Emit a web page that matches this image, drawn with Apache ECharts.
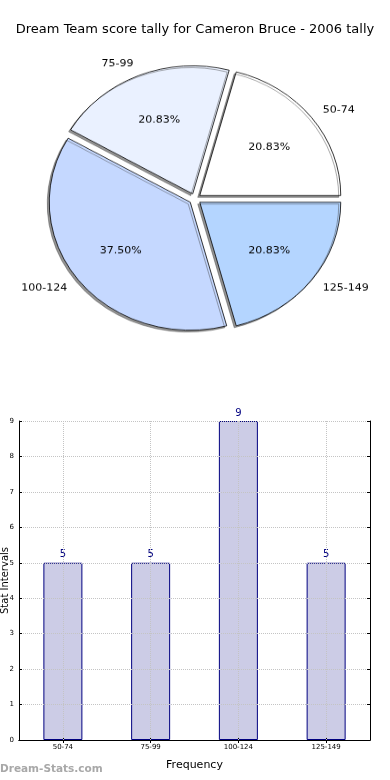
<!DOCTYPE html>
<html><head><meta charset="utf-8">
<script src="https://cdn.jsdelivr.net/npm/echarts@6/dist/echarts.min.js"></script>
<style>
html,body{margin:0;padding:0;background:#fff}
#main{position:absolute;left:0;top:0;width:390px;height:780px}
#pie{position:absolute;left:0;top:0;width:390px;height:440px;transform:scaleY(0.908);transform-origin:0 0}
</style></head>
<body><div id="main"></div><div id="pie"></div>
<script>
const categories = ['50-74', '75-99', '100-124', '125-149'];
const counts = [5, 5, 9, 5];
const pieColors = ['#ffffff', '#eaf1ff', '#c5d8ff', '#b4d5ff'];
const titleText = 'Dream Team score tally for Cameron Bruce - 2006 tally';
const FONT = 'DejaVu Sans';

const total = counts.reduce((a, b) => a + b, 0);

const main = echarts.init(document.getElementById('main'), null, {renderer: 'canvas'});
main.setOption({
  animation: false,
  backgroundColor: '#fff',
  title: [
    {text: titleText, left: 'center', top: 23, padding: 0,
     textStyle: {fontSize: 13, fontWeight: 'normal', color: '#000', fontFamily: FONT}},
    {text: 'Dream-Stats.com', left: 0, top: 764, padding: 0,
     textStyle: {fontSize: 10.5, fontWeight: 'bold', color: '#a8a8a8', fontFamily: FONT}}
  ],
  grid: {left: 19, right: 20, top: 421, bottom: 40, containLabel: false, outerBoundsMode: 'none'},
  xAxis: [
    {type: 'category', data: categories, position: 'bottom', z: 6,
     axisLine: {show: true, lineStyle: {color: '#000', width: 1}},
     axisTick: {show: true, inside: true, alignWithLabel: true, length: 3, lineStyle: {color: '#000'}},
     axisLabel: {fontSize: 7, color: '#000', margin: 4, fontFamily: FONT},
     splitLine: {show: false},
     name: 'Frequency', nameLocation: 'middle', nameGap: 20, nameMoveOverlap: false,
     nameTextStyle: {fontSize: 11, color: '#000', fontFamily: FONT}},
    {type: 'category', data: categories, position: 'top', z: 6,
     axisLine: {show: true, lineStyle: {color: '#000', width: 1}},
     axisTick: {show: true, inside: true, alignWithLabel: true, length: 3, lineStyle: {color: '#000'}},
     axisLabel: {show: false}, splitLine: {show: false}}
  ],
  yAxis: [
    {type: 'value', min: 0, max: 9, interval: 1, position: 'left', z: 5,
     axisLine: {show: true, lineStyle: {color: '#000', width: 1}},
     axisTick: {show: true, inside: true, length: 3, lineStyle: {color: '#000'}},
     axisLabel: {fontSize: 7, color: '#000', margin: 5, fontFamily: FONT},
     splitLine: {show: true, lineStyle: {color: '#c4c4c4', type: 'dotted', width: 1}},
     name: 'Stat Intervals', nameLocation: 'middle', nameGap: 9, nameMoveOverlap: false,
     nameTextStyle: {fontSize: 10, color: '#000', fontFamily: FONT}},
    {type: 'value', min: 0, max: 9, interval: 1, position: 'right', z: 6,
     axisLine: {show: true, lineStyle: {color: '#000', width: 1}},
     axisTick: {show: true, inside: true, length: 3, lineStyle: {color: '#000'}},
     axisLabel: {show: false}, splitLine: {show: false}}
  ],
  series: [{
    type: 'bar', data: counts, barWidth: 39, silent: true,
    itemStyle: {color: '#ccccE6', borderColor: '#000080', borderWidth: 1},
    label: {show: true, position: 'top', distance: 3, color: '#000080', fontSize: 10, fontFamily: FONT},
    emphasis: {disabled: true},
    markLine: {
      silent: true, symbol: 'none', z: 10,
      label: {show: false},
      lineStyle: {color: '#c4c4c4', type: 'dotted', width: 1},
      data: categories.map(c => ({xAxis: c}))
    }
  }]
});

const pie = echarts.init(document.getElementById('pie'), null, {renderer: 'canvas'});
const pieData = (withColor) => categories.map((c, i) => ({
  name: c, value: counts[i], selected: true,
  itemStyle: withColor ? {color: pieColors[i]} : {color: 'rgba(0,0,0,0)'}
}));
const noShadowText = {textShadowColor: 'transparent', textShadowBlur: 0, textBorderWidth: 0};
pie.setOption({
  animation: false,
  series: [
    {type: 'pie', center: [195, 219], radius: 141, startAngle: 0, clockwise: false,
     selectedMode: 'multiple', selectedOffset: 6, avoidLabelOverlap: false, silent: true,
     data: pieData(true),
     itemStyle: {borderColor: '#000', borderWidth: 0.8,
       shadowColor: 'rgba(60,60,60,0.55)', shadowBlur: 0.5, shadowOffsetX: -2, shadowOffsetY: 2},
     label: Object.assign({position: 'outside', fontSize: 11, color: '#000', fontFamily: FONT, distanceToLabelLine: 0}, noShadowText),
     labelLine: {show: false, length: 14, length2: 0},
     emphasis: {disabled: true}},
    {type: 'pie', center: [195, 219], radius: [28, 141], startAngle: 0, clockwise: false,
     selectedMode: 'multiple', selectedOffset: 6, avoidLabelOverlap: false, silent: true, z: 5,
     data: pieData(false),
     itemStyle: {borderWidth: 0, shadowBlur: 0, shadowColor: 'transparent'},
     label: Object.assign({position: 'inside', fontSize: 11, color: '#000', fontFamily: FONT,
       formatter: p => (p.value / total * 100).toFixed(2) + '%'}, noShadowText),
     labelLine: {show: false},
     emphasis: {disabled: true}}
  ]
});
</script></body></html>
